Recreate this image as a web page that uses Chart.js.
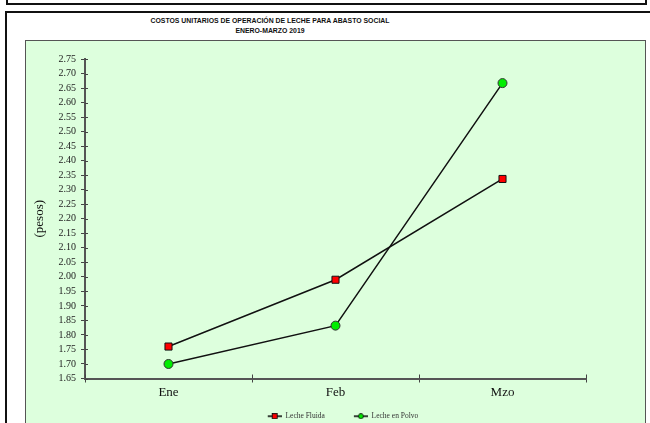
<!DOCTYPE html>
<html>
<head>
<meta charset="utf-8">
<script src="https://cdn.jsdelivr.net/npm/chart.js@4"></script>
<style>
  html, body { margin: 0; padding: 0; background: #fff; overflow: hidden; width: 650px; height: 423px; }
  #topFrame { position: absolute; left: 6px; top: -20px; width: 637px; height: 21px; border: 2px solid #111; }
  #frame { position: absolute; left: 5px; top: 11px; width: 660px; height: 440px; border: 2px solid #111; border-right-color: #666; }
  .title { position: absolute; left: 0; width: 540px; text-align: center; font: bold 8px "Liberation Sans Narrow", "Liberation Sans", Arial, sans-serif; color: #111; transform: scaleX(0.86); transform-origin: 270px 0; }
  #plotBox { position: absolute; left: 25px; top: 40px; width: 619px; height: 400px; border: 1px solid #555; background: #ddffdd; overflow: hidden; }
  #chart { display: block; }
</style>
</head>
<body>
<div id="topFrame"></div>
<div id="frame"></div>
<div class="title" style="top:16px">COSTOS UNITARIOS DE OPERACIÓN DE LECHE PARA ABASTO SOCIAL</div>
<div class="title" style="top:26px">ENERO-MARZO 2019</div>
<div id="plotBox"><canvas id="chart" width="619" height="389"></canvas></div>
<script>
const months = ['Ene', 'Feb', 'Mzo'];
const lecheFluida = [1.76, 1.99, 2.337];
const lechePolvo = [1.70, 1.832, 2.667];
const yMin = 1.65, yMax = 2.75, yStep = 0.05;

// legend swatch: blank lead-in (item spacing), then a line with the marker on it
const SW_GAP = 15;
function swatch(kind) {
    const c = document.createElement('canvas');
    c.width = SW_GAP + 14; c.height = 6;
    const g = c.getContext('2d');
    g.translate(SW_GAP, 0);
    g.strokeStyle = '#000'; g.lineWidth = 1.5;
    g.beginPath(); g.moveTo(0, 3); g.lineTo(14, 3); g.stroke();
    g.lineWidth = 0.8;
    if (kind === 'rect') {
        g.fillStyle = '#ff0000';
        g.fillRect(4.5, 0.5, 5, 5); g.strokeRect(4.5, 0.5, 5, 5);
    } else {
        g.fillStyle = '#00ee00';
        g.beginPath(); g.arc(7, 3, 2.5, 0, Math.PI * 2); g.fill(); g.stroke();
    }
    return c;
}

// ticks that cross the axis line (inner half)
const crossTicks = {
    id: 'crossTicks',
    afterDraw(chart) {
        const { ctx, chartArea: a, scales: { y } } = chart;
        ctx.save();
        ctx.strokeStyle = '#444';
        ctx.lineWidth = 1;
        ctx.beginPath();
        y.ticks.forEach((t, i) => {
            const py = Math.round(y.getPixelForTick(i)) + 0.5;
            ctx.moveTo(a.left, py); ctx.lineTo(a.left + 3, py);
        });
        for (let i = 0; i <= months.length; i++) {
            const px = Math.round(a.left + (a.right - a.left) * i / months.length) + 0.5;
            ctx.moveTo(px, a.bottom); ctx.lineTo(px, a.bottom - 4);
        }
        ctx.stroke();
        ctx.restore();
    }
};

new Chart(document.getElementById('chart'), {
    type: 'line',
    data: {
        labels: months,
        datasets: [
            {
                label: 'Leche Fluida',
                data: lecheFluida,
                borderColor: '#111',
                borderWidth: 1.5,
                pointStyle: 'rect',
                pointRadius: 5,
                pointBackgroundColor: '#ff0000',
                pointBorderColor: '#111',
                pointBorderWidth: 1,
                tension: 0
            },
            {
                label: 'Leche en Polvo',
                data: lechePolvo,
                borderColor: '#111',
                borderWidth: 1.5,
                pointStyle: 'circle',
                pointRadius: 4.5,
                pointBackgroundColor: '#00ee00',
                pointBorderColor: '#333',
                pointBorderWidth: 1,
                tension: 0
            }
        ]
    },
    options: {
        responsive: false,
        animation: false,
        layout: { padding: { top: 18, right: 0, bottom: 0, left: 0 } },
        scales: {
            x: {
                offset: true,
                grid: { offset: true, drawOnChartArea: false, tickLength: 4, color: '#444', lineWidth: 1 },
                border: { color: '#555', width: 2 },
                ticks: { color: '#111', font: { family: 'Liberation Serif, Times New Roman, serif', size: 13 }, padding: 2 },
                afterFit(s) { s.height = 20; }
            },
            y: {
                min: yMin,
                max: yMax,
                grid: { drawOnChartArea: false, tickLength: 4, color: '#444', lineWidth: 1 },
                border: { color: '#555', width: 2 },
                ticks: {
                    stepSize: yStep,
                    autoSkip: false,
                    color: '#222',
                    padding: 5,
                    font: { family: 'Liberation Serif, Times New Roman, serif', size: 10 },
                    callback: v => v.toFixed(2)
                },
                title: {
                    display: true,
                    text: '(pesos)',
                    color: '#111',
                    padding: { top: 6, bottom: 0 },
                    font: { family: 'Liberation Serif, Times New Roman, serif', size: 13 }
                },
                afterFit(s) { s.width = 59; }
            },
            // empty right-hand space so the legend stays centred on the whole box
            spacer: {
                type: 'linear',
                position: 'right',
                grid: { display: false },
                border: { display: false },
                ticks: { display: false },
                afterFit(s) { s.width = 59; }
            }
        },
        plugins: {
            tooltip: { enabled: false },
            legend: {
                position: 'bottom',
                labels: {
                    color: '#333',
                    font: { family: 'Liberation Serif, Times New Roman, serif', size: 7.5 },
                    boxWidth: SW_GAP + 14,
                    boxHeight: 6,
                    pointStyleWidth: SW_GAP + 14,
                    padding: 14,
                    usePointStyle: true,
                    generateLabels(chart) {
                        return chart.data.datasets.map((ds, i) => ({
                            text: ds.label,
                            fontColor: '#333',
                            pointStyle: swatch(i === 0 ? 'rect' : 'circle'),
                            datasetIndex: i,
                            lineWidth: 0,
                            strokeStyle: 'transparent',
                            fillStyle: 'transparent'
                        }));
                    }
                }
            }
        }
    },
    plugins: [crossTicks]
});
</script>
</body>
</html>
